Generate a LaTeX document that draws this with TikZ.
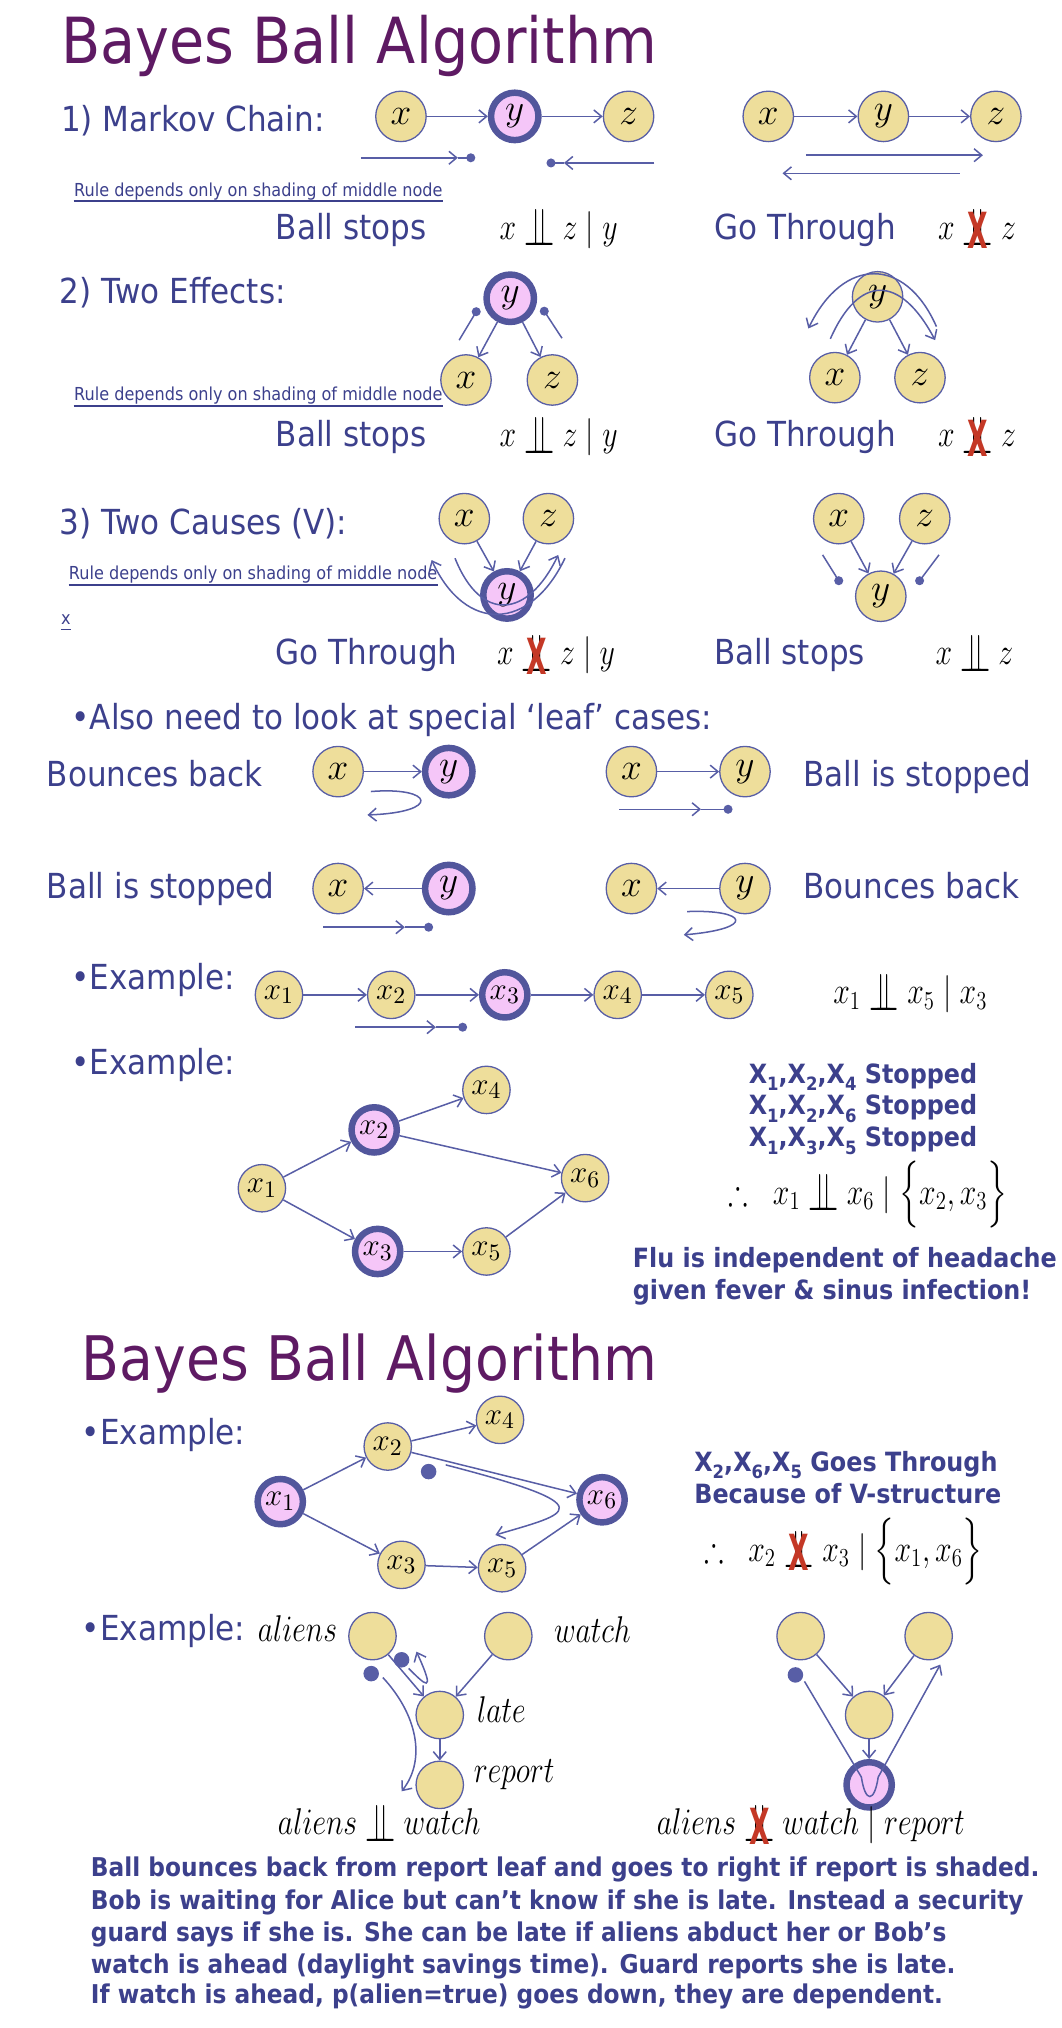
\documentclass[tikz,border=0pt]{standalone}
\usepackage[no-math]{fontspec}
\setmainfont{DejaVu Sans}[FakeStretch=0.9]
\usepackage{amssymb}
\usepackage{exscale}
\usepackage{graphicx}
\usetikzlibrary{arrows.meta}
\definecolor{ttlc}{RGB}{94,26,99}
\definecolor{tblue}{RGB}{60,64,140}
\definecolor{nfill}{RGB}{238,222,155}
\definecolor{pfill}{RGB}{245,198,248}
\definecolor{edgec}{RGB}{88,94,166}
\definecolor{ringc}{RGB}{82,86,156}
\definecolor{xred}{RGB}{196,56,38}
\newcommand{\indsym}{\raisebox{-3pt}{\scalebox{1}[1.45]{$\perp\mkern-10mu\perp$}}}
\newcommand{\indep}{\mathrel{\indsym}}
\newcommand{\nindep}{\mathrel{\setbox0=\hbox{\indsym}\copy0\kern-\wd0\hbox to\wd0{\hss\raisebox{-4.5pt}{\scalebox{0.78}[1.05]{\textcolor{xred}{\fontsize{22}{22}\selectfont\bfseries X}}}\hss}}}
\newcommand{\mx}[1]{\scalebox{0.8}[1]{\fontsize{17}{20}\selectfont$#1$}}
\newcommand{\bsub}[1]{\raisebox{-0.28em}{\fontsize{8.5}{9}\selectfont #1}}
\begin{document}
\begin{tikzpicture}[x=0.6pt,y=-0.6pt,
  nd/.style={circle,draw=edgec,line width=0.6pt,fill=nfill,minimum size=23.4pt,inner sep=0pt,font=\fontsize{16}{18}\selectfont},
  ndsm/.style={nd,minimum size=22pt,font=\fontsize{15}{17}\selectfont},
  sh/.style={circle,draw=ringc,line width=3pt,fill=pfill,minimum size=22pt,inner sep=0pt,font=\fontsize{16}{18}\selectfont},
  shsm/.style={sh,minimum size=21pt,font=\fontsize{15}{17}\selectfont},
  arr/.style={draw=edgec,line width=0.7pt,-{Straight Barb[length=3.6pt,width=6pt]}},
  bline/.style={draw=edgec,line width=0.7pt},
  barr/.style={bline,-{Straight Barb[length=3.6pt,width=6pt]}},
  txt/.style={anchor=base west,inner sep=0pt,text=tblue,font=\fontsize{16}{19}\selectfont},
  ttl/.style={anchor=base west,inner sep=0pt,text=ttlc,font=\fontsize{29.5}{32}\selectfont},
  rulet/.style={anchor=base west,inner sep=0pt,text=tblue,font=\fontsize{8.3}{10}\selectfont},
  ul/.style={draw=tblue,line width=0.8pt},
  boldt/.style={anchor=base west,inner sep=0pt,text=tblue,font=\fontsize{12.3}{15}\selectfont\bfseries},
  mth/.style={anchor=base west,inner sep=0pt}
]
\useasboundingbox (0,0) rectangle (821,1568);

% ---------- Title ----------
\node[ttl] (title1) at (47,49) {Bayes Ball Algorithm};

% ---------- 1) Markov chain ----------
\node[txt] (h1) at (47,102) {1) Markov Chain:};
\node[nd] (xA) at (310,90) {$x$};
\node[sh] (yA) at (398,90) {$y$};
\node[nd] (zA) at (486,90) {$z$};
\draw[arr] (xA) -- (yA);
\draw[arr] (yA) -- (zA);
\coordinate (a1s) at (279,122); \coordinate (a1m) at (354,122); \coordinate (a1e) at (364,122);
\draw[barr] (a1s) -- (a1m); \draw[bline] (a1m) -- (a1e); \fill[edgec] (a1e) circle (2.1pt);
\coordinate (a2s) at (506,126); \coordinate (a2m) at (436,126); \coordinate (a2e) at (426,126);
\draw[barr] (a2s) -- (a2m); \draw[bline] (a2m) -- (a2e); \fill[edgec] (a2e) circle (2.1pt);

\node[nd] (xA2) at (594,90) {$x$};
\node[nd] (yA2) at (683,90) {$y$};
\node[nd] (zA2) at (770,90) {$z$};
\draw[arr] (xA2) -- (yA2);
\draw[arr] (yA2) -- (zA2);
\coordinate (a3s) at (623,120); \coordinate (a3e) at (760,120);
\draw[barr] (a3s) -- (a3e);
\coordinate (a4s) at (742,134); \coordinate (a4e) at (605,134);
\draw[barr] (a4s) -- (a4e);

\node[rulet] (r1) at (57,152) {Rule depends only on shading of middle node};
\draw[ul] ([yshift=-2.2pt]r1.base west) -- ([yshift=-2.2pt]r1.base east);

\node[txt] (bs1) at (213,185) {Ball stops};
\node[mth] (m1) at (386,185) {\mx{x \indep z \mid y}};
\node[txt] (gt1) at (552,185) {Go Through};
\node[mth] (m2) at (725,185) {\mx{x \nindep z}};

% ---------- 2) Two effects ----------
\node[txt] (h2) at (46,235) {2) Two Effects:};
\node[sh] (yB) at (394.5,230.6) {$y$};
\node[nd] (xB) at (360.3,293.8) {$x$};
\node[nd] (zB) at (427.1,293.8) {$z$};
\draw[arr] (yB) -- (xB);
\draw[arr] (yB) -- (zB);
\coordinate (b1s) at (355,263); \coordinate (b1e) at (368.2,241);
\draw[bline] (b1s) -- (b1e); \fill[edgec] (b1e) circle (2.1pt);
\coordinate (b2s) at (434.5,261.5); \coordinate (b2e) at (420.8,240.6);
\draw[bline] (b2s) -- (b2e); \fill[edgec] (b2e) circle (2.1pt);

\node[nd] (yB2) at (678.5,229.5) {$y$};
\node[nd] (xB2) at (645.5,292) {$x$};
\node[nd] (zB2) at (711.3,292) {$z$};
\draw[arr] (yB2) -- (xB2);
\draw[arr] (yB2) -- (zB2);
\coordinate (b3s) at (724,252.5); \coordinate (b3e) at (625,254);
\draw[barr] (b3s) .. controls (700,198) and (652,198) .. (b3e);
\coordinate (b4s) at (642,262); \coordinate (b4e) at (723,263);
\draw[barr] (b4s) .. controls (664,212) and (696,212) .. (b4e);

\node[rulet] (r2) at (57,310) {Rule depends only on shading of middle node};
\draw[ul] ([yshift=-2.2pt]r2.base west) -- ([yshift=-2.2pt]r2.base east);

\node[txt] (bs2) at (213,345.6) {Ball stops};
\node[mth] (m3) at (386,345.6) {\mx{x \indep z \mid y}};
\node[txt] (gt2) at (552,345.6) {Go Through};
\node[mth] (m4) at (725,345.6) {\mx{x \nindep z}};

% ---------- 3) Two causes ----------
\node[txt] (h3) at (46,413.5) {3) Two Causes (V):};
\node[nd] (xC) at (359,401) {$x$};
\node[nd] (zC) at (424,401) {$z$};
\node[sh] (yC) at (392,460) {$y$};
\draw[arr] (xC) -- (yC);
\draw[arr] (zC) -- (yC);
\coordinate (c1s) at (351.8,431.6); \coordinate (c1e) at (431.6,429.1);
\draw[barr] (c1s) .. controls (372,482) and (408,478) .. (c1e);
\coordinate (c2s) at (436.8,431.6); \coordinate (c2e) at (333.7,433);
\draw[barr] (c2s) .. controls (410,488) and (360,490) .. (c2e);

\node[nd] (xC2) at (648.5,401) {$x$};
\node[nd] (zC2) at (715,401) {$z$};
\node[nd] (yC2) at (681,461) {$y$};
\draw[arr] (xC2) -- (yC2);
\draw[arr] (zC2) -- (yC2);
\coordinate (c3s) at (636,429); \coordinate (c3e) at (648.5,449);
\draw[bline] (c3s) -- (c3e); \fill[edgec] (c3e) circle (2.1pt);
\coordinate (c4s) at (726,429); \coordinate (c4e) at (711,449);
\draw[bline] (c4s) -- (c4e); \fill[edgec] (c4e) circle (2.1pt);

\node[rulet] (r3) at (53,448.4) {Rule depends only on shading of middle node};
\draw[ul] ([yshift=-2.2pt]r3.base west) -- ([yshift=-2.2pt]r3.base east);
\node[rulet] (ux) at (47,483) {x};
\draw[ul] ([yshift=-2.2pt]ux.base west) -- ([yshift=-2.2pt]ux.base east);

\node[txt] (gt3) at (213,514) {Go Through};
\node[mth] (m5) at (384,514) {\mx{x \nindep z \mid y}};
\node[txt] (bs3) at (552,514) {Ball stops};
\node[mth] (m6) at (723,514) {\mx{x \indep z}};

% ---------- Leaf cases ----------
\node[txt] (leaf) at (55,564.4) {•Also need to look at special ‘leaf’ cases:};

\node[txt] (l1t) at (36,608) {Bounces back};
\node[nd] (xL1) at (261.4,596.6) {$x$};
\node[sh] (yL1) at (347,596.6) {$y$};
\draw[arr] (xL1) -- (yL1);
\coordinate (l1s) at (286.7,612); \coordinate (l1e) at (284.1,630.1);
\draw[barr] (l1s) .. controls (335,608) and (342,628) .. (l1e);

\node[nd] (xL2) at (488.2,596.6) {$x$};
\node[nd] (yL2) at (576,596.6) {$y$};
\draw[arr] (xL2) -- (yL2);
\node[txt] (l2t) at (621,608) {Ball is stopped};
\coordinate (l2s) at (478.7,625.7); \coordinate (l2m) at (542,625.7); \coordinate (l2e) at (562.9,625.7);
\draw[barr] (l2s) -- (l2m); \draw[bline] (l2m) -- (l2e); \fill[edgec] (l2e) circle (2.1pt);

\node[txt] (l3t) at (36,694.5) {Ball is stopped};
\node[nd] (xL3) at (261.4,687) {$x$};
\node[sh] (yL3) at (347,687) {$y$};
\draw[arr] (yL3) -- (xL3);
\coordinate (l3s) at (249.9,716.9); \coordinate (l3m) at (313,716.9); \coordinate (l3e) at (331.4,716.9);
\draw[barr] (l3s) -- (l3m); \draw[bline] (l3m) -- (l3e); \fill[edgec] (l3e) circle (2.1pt);

\node[nd] (xL4) at (488.2,687) {$x$};
\node[nd] (yL4) at (576,687) {$y$};
\draw[arr] (yL4) -- (xL4);
\node[txt] (l4t) at (621,694.5) {Bounces back};
\coordinate (l4s) at (531.3,704.8); \coordinate (l4e) at (528.7,722.8);
\draw[barr] (l4s) .. controls (578,703) and (585,718) .. (l4e);

% ---------- Example 1 ----------
\node[txt] (ex1) at (55,765.4) {•Example:};
\node[ndsm] (e1) at (215.7,769.2) {$x_1$};
\node[ndsm] (e2) at (302.5,769.2) {$x_2$};
\node[shsm] (e3) at (390.3,769.2) {$x_3$};
\node[ndsm] (e4) at (477.6,769.2) {$x_4$};
\node[ndsm] (e5) at (563.9,769.2) {$x_5$};
\draw[arr] (e1) -- (e2);
\draw[arr] (e2) -- (e3);
\draw[arr] (e3) -- (e4);
\draw[arr] (e4) -- (e5);
\coordinate (e1s) at (274.6,794.2); \coordinate (e1m) at (337,794.2); \coordinate (e1e) at (357.7,794.2);
\draw[barr] (e1s) -- (e1m); \draw[bline] (e1m) -- (e1e); \fill[edgec] (e1e) circle (2.1pt);
\node[mth] (m7) at (644,776) {\mx{x_1 \indep x_5 \mid x_3}};

% ---------- Example 2 ----------
\node[txt] (ex2) at (55,831) {•Example:};
\node[ndsm] (f1) at (202.5,918.7) {$x_1$};
\node[shsm] (f2) at (289.3,873.6) {$x_2$};
\node[shsm] (f3) at (292,967.6) {$x_3$};
\node[ndsm] (f4) at (376.1,842.7) {$x_4$};
\node[ndsm] (f5) at (376.1,967.6) {$x_5$};
\node[ndsm] (f6) at (452.4,910.9) {$x_6$};
\draw[arr] (f1) -- (f2);
\draw[arr] (f1) -- (f3);
\draw[arr] (f2) -- (f4);
\draw[arr] (f2) -- (f6);
\draw[arr] (f3) -- (f5);
\draw[arr] (f5) -- (f6);
\node[boldt] (st1) at (578.6,837.5) {X\bsub{1},X\bsub{2},X\bsub{4} Stopped};
\node[boldt] (st2) at (578.6,862) {X\bsub{1},X\bsub{2},X\bsub{6} Stopped};
\node[boldt] (st3) at (578.6,886.5) {X\bsub{1},X\bsub{3},X\bsub{5} Stopped};
\node[mth] (m8) at (563,931) {\mx{\therefore\;\; x_1 \indep x_6 \mid \Big\{x_2, x_3\Big\}}};
\node[boldt] (flu1) at (489,980) {Flu is independent of headache};
\node[boldt] (flu2) at (489,1005) {given fever \& sinus infection!};

% ---------- Title 2 ----------
\node[ttl,font=\fontsize{28.5}{31}\selectfont] (title2) at (63,1067) {Bayes Ball Algorithm};

% ---------- Example 3 ----------
\node[txt] (ex3) at (63,1117) {•Example:};
\node[shsm] (g1) at (216.7,1161) {$x_1$};
\node[ndsm] (g2) at (299.8,1118.4) {$x_2$};
\node[ndsm] (g4) at (386.6,1097.8) {$x_4$};
\node[shsm] (g6) at (465.5,1159.6) {$x_6$};
\node[ndsm] (g3) at (310.4,1209.9) {$x_3$};
\node[ndsm] (g5) at (388.2,1212.5) {$x_5$};
\draw[arr] (g1) -- (g2);
\draw[arr] (g1) -- (g3);
\draw[arr] (g2) -- (g4);
\draw[arr] (g2) -- (g6);
\draw[arr] (g3) -- (g5);
\draw[arr] (g5) -- (g6);
\coordinate (gd) at (331.4,1137.8);
\fill[edgec] (gd) circle (3.6pt);
\coordinate (gps) at (344.6,1132.6); \coordinate (gpe) at (383,1186.8);
\draw[barr] (gps) .. controls (470,1165) and (440,1170) .. (gpe);
\node[boldt] (gt4) at (536.5,1137.7) {X\bsub{2},X\bsub{6},X\bsub{5} Goes Through};
\node[boldt] (vs) at (536.5,1162.2) {Because of V-structure};
\node[mth] (m9) at (544,1207) {\mx{\therefore\;\; x_2 \nindep x_3 \mid \Big\{x_1, x_6\Big\}}};

% ---------- Example 4 (aliens) ----------
\node[txt] (ex4) at (63,1268) {•Example:};
\node[ndsm] (al) at (288,1265) {};
\node[ndsm] (wa) at (393,1265) {};
\node[ndsm] (la) at (340,1326) {};
\node[ndsm] (re) at (340,1380) {};
\draw[arr] (al) -- (la);
\draw[arr] (wa) -- (la);
\draw[arr] (la) -- (re);
\node[mth,anchor=base east] (alt) at (261,1269) {\mx{aliens}};
\node[mth] (wat) at (428,1270) {\mx{watch}};
\node[mth] (lat) at (368.5,1332) {\mx{late}};
\node[mth] (ret) at (366,1378) {\mx{report}};
\coordinate (hd1) at (310.5,1283.3); \fill[edgec] (hd1) circle (3.6pt);
\coordinate (hd2) at (287,1294); \fill[edgec] (hd2) circle (3.6pt);
\coordinate (hus) at (316,1290); \coordinate (hue) at (322,1277);
\draw[barr] (hus) .. controls (328,1302) and (338,1312) .. (hue);
\coordinate (hls) at (296,1297); \coordinate (hle) at (310.5,1385);
\draw[barr] (hls) .. controls (322,1325) and (330,1360) .. (hle);
\node[mth] (m10) at (214.6,1418.6) {\mx{aliens \indep watch}};

\node[ndsm] (al2) at (619,1265) {};
\node[ndsm] (wa2) at (718,1265) {};
\node[ndsm] (la2) at (672,1326) {};
\node[shsm] (re2) at (672,1380) {};
\draw[arr] (al2) -- (la2);
\draw[arr] (wa2) -- (la2);
\draw[arr] (la2) -- (re2);
\coordinate (hd3) at (615,1295); \fill[edgec] (hd3) circle (3.6pt);
\coordinate (hrs) at (622,1300); \coordinate (hre) at (727,1287);
\draw[barr] (hrs) -- (666,1374) .. controls (669,1394) and (676,1394) .. (679,1374) -- (hre);
\node[mth] (m11) at (507.5,1418.6) {\mx{aliens \nindep watch \mid report}};

% ---------- Paragraph ----------
\node[boldt,font=\fontsize{12}{15}\selectfont\bfseries] (p1) at (70,1451) {Ball bounces back from report leaf and goes to right if report is shaded.};
\node[boldt,font=\fontsize{12}{15}\selectfont\bfseries] (p2) at (70,1476.5) {Bob is waiting for Alice but can’t know if she is late. Instead a security};
\node[boldt,font=\fontsize{12}{15}\selectfont\bfseries] (p3) at (70,1501) {guard says if she is. She can be late if aliens abduct her or Bob’s};
\node[boldt,font=\fontsize{12}{15}\selectfont\bfseries] (p4) at (70,1525.6) {watch is ahead (daylight savings time). Guard reports she is late.};
\node[boldt,font=\fontsize{12}{15}\selectfont\bfseries] (p5) at (70,1549.3) {If watch is ahead, p(alien=true) goes down, they are dependent.};
\end{tikzpicture}
\end{document}
